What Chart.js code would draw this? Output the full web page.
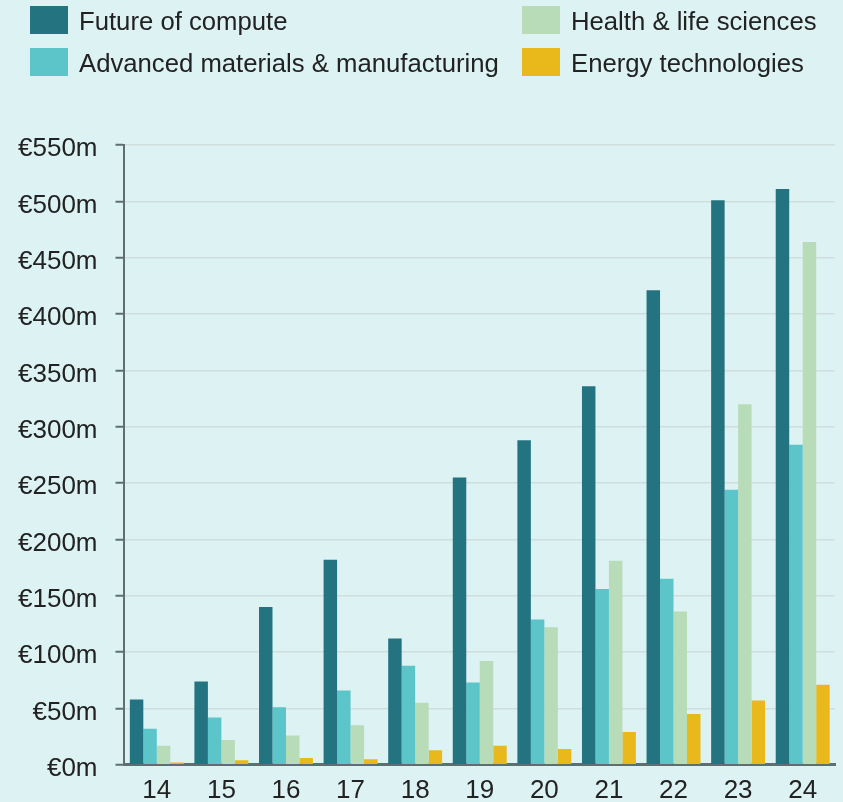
<!DOCTYPE html>
<html>
<head>
    <title>Investment by technology area</title>
    <style>
        body {
            margin: 0;
            background: #ddf2f3;
            font-family: "Liberation Sans", Arial, sans-serif;
        }

        #wrap {
            position: relative;
            width: 843px;
            height: 802px;
            overflow: hidden;
        }

        #chart {
            position: absolute;
            left: 0;
            top: 0;
        }

        #legend {
            position: absolute;
            left: 30px;
            top: 6px;
            display: grid;
            grid-template-columns: 492px 300px;
            row-gap: 14px;
        }

        .item {
            display: flex;
            align-items: center;
            height: 28px;
            font-size: 25.7px;
            color: #222;
            white-space: nowrap;
        }

        .item span.label {
            padding-top: 3px;
        }

        .box {
            width: 38px;
            height: 28px;
            margin-right: 11px;
        }
    </style>
</head>
<body>
    <div id="wrap">
        <canvas id="chart" width="843" height="816"></canvas>
        <div id="legend"></div>
    </div>
    <script src="https://cdn.jsdelivr.net/npm/chart.js"></script>
    <script>
        // Years (20xx) on the x axis
        const years = ['14', '15', '16', '17', '18', '19', '20', '21', '22', '23', '24'];

        // Values in € millions
        const futureOfCompute = [58, 74, 140, 182, 112, 255, 288, 336, 421, 501, 511];
        const advancedMaterials = [32, 42, 51, 66, 88, 73, 129, 156, 165, 244, 284];
        const healthLifeSciences = [17, 22, 26, 35, 55, 92, 122, 181, 136, 320, 464];
        const energyTechnologies = [2, 4, 6, 5, 13, 17, 14, 29, 45, 57, 71];

        const seriesNames = ['Future of compute', 'Advanced materials & manufacturing', 'Health & life sciences', 'Energy technologies'];
        const seriesColors = ['#237380', '#5bc5ca', '#b8dcb8', '#e9b81b'];

        // legend order in the picture: two columns, filled row by row
        const legendOrder = [0, 2, 1, 3];

        const axisColor = '#5f6f70';
        const tickFont = { family: '"Liberation Sans", Arial, sans-serif', size: 26 };

        const legend = document.getElementById('legend');
        legendOrder.forEach(i => {
            const item = document.createElement('div');
            item.className = 'item';
            const box = document.createElement('span');
            box.className = 'box';
            box.style.background = seriesColors[i];
            const label = document.createElement('span');
            label.className = 'label';
            label.innerText = seriesNames[i];
            item.appendChild(box);
            item.appendChild(label);
            legend.appendChild(item);
        });

        const allSeries = [futureOfCompute, advancedMaterials, healthLifeSciences, energyTechnologies];

        const ctx = document.getElementById('chart').getContext('2d');
        new Chart(ctx, {
            type: 'bar',
            data: {
                labels: years,
                datasets: allSeries.map((values, i) => ({
                    label: seriesNames[i],
                    data: values,
                    backgroundColor: seriesColors[i],
                    borderWidth: 0,
                    barPercentage: 1,
                    categoryPercentage: 0.835
                }))
            },
            options: {
                responsive: false,
                animation: false,
                layout: {
                    padding: { top: 145, left: 0, right: 8, bottom: 0 }
                },
                plugins: {
                    legend: { display: false },
                    tooltip: { enabled: false }
                },
                scales: {
                    x: {
                        grid: { display: false, drawTicks: false },
                        border: { display: true, color: axisColor, width: 3 },
                        ticks: {
                            color: '#222',
                            font: tickFont,
                            padding: 10
                        }
                    },
                    y: {
                        min: 0,
                        max: 550,
                        border: { display: true, color: axisColor, width: 2 },
                        grid: {
                            color: '#d0dddd',
                            lineWidth: 1.5,
                            tickLength: 9,
                            tickColor: axisColor,
                            tickWidth: 2
                        },
                        ticks: {
                            stepSize: 50,
                            color: '#222',
                            padding: 18,
                            labelOffset: 4,
                            font: tickFont,
                            callback: v => '€' + v + 'm'
                        }
                    }
                }
            }
        });
    </script>
</body>
</html>
